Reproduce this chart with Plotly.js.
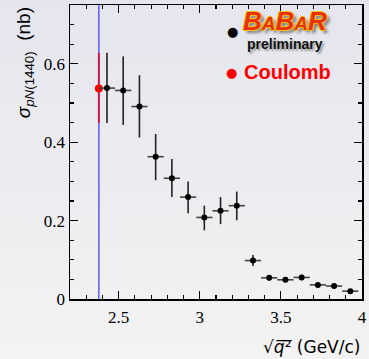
<!DOCTYPE html>
<html>
<head>
<meta charset="utf-8">
<script src="https://cdn.plot.ly/plotly-3.0.1.min.js"></script>
<style>
html,body{margin:0;padding:0;}
body{width:369px;height:359px;background:linear-gradient(to bottom,#e5e5ee 0%,#ececf0 50%,#f3f3f3 100%);}
#chart{width:369px;height:359px;}
</style>
</head>
<body>
<div id="chart"></div>
<script>
// BaBar preliminary data points
var q = [2.428, 2.528, 2.628, 2.728, 2.828, 2.928, 3.028, 3.128, 3.228, 3.328, 3.428, 3.528, 3.628, 3.728, 3.828, 3.928];
var sigma = [0.538, 0.532, 0.491, 0.363, 0.308, 0.260, 0.208, 0.225, 0.238, 0.098, 0.054, 0.049, 0.055, 0.036, 0.033, 0.020];
var errUp = [0.090, 0.087, 0.080, 0.058, 0.049, 0.040, 0.030, 0.035, 0.036, 0.014, 0.007, 0.006, 0.007, 0.004, 0.004, 0.003];
var errDown = [0.089, 0.088, 0.079, 0.060, 0.048, 0.041, 0.033, 0.034, 0.037, 0.014, 0.007, 0.006, 0.007, 0.004, 0.004, 0.003];
var binHalf = [0.05, 0.05, 0.05, 0.05, 0.05, 0.05, 0.05, 0.05, 0.05, 0.05, 0.05, 0.05, 0.05, 0.05, 0.05, 0.05];
// Coulomb point at threshold
var coulombQ = [2.378];
var coulombSigma = [0.537];
var coulombErrUp = [0.091];
var coulombErrDown = [0.088];
// threshold line
var thresholdQ = [2.378, 2.378];
var thresholdY = [0, 0.75];

var traces = [
  {x: thresholdQ, y: thresholdY, mode: 'lines', line: {color: '#4646f0', width: 1.3}, hoverinfo: 'skip', showlegend: false},
  {x: coulombQ, y: coulombSigma, mode: 'markers', marker: {color: '#ff0000', size: 8},
   error_y: {type: 'data', symmetric: false, array: coulombErrUp, arrayminus: coulombErrDown, width: 0, thickness: 2, color: 'rgb(205,30,80)'},
   showlegend: false},
  {x: q, y: sigma, mode: 'markers', marker: {color: '#000000', size: 6},
   error_y: {type: 'data', symmetric: false, array: errUp, arrayminus: errDown, width: 0, thickness: 1.6, color: '#222222'},
   error_x: {type: 'data', array: binHalf, width: 0, thickness: 1.6, color: '#444444'},
   showlegend: false}
];

var tickFont = {family: 'Liberation Serif, Times New Roman, serif', size: 17, color: '#000'};
var layout = {
  width: 369, height: 359,
  margin: {l: 70, r: 7, t: 5, b: 60},
  paper_bgcolor: 'rgba(0,0,0,0)',
  plot_bgcolor: 'rgba(0,0,0,0)',
  showlegend: false,
  xaxis: {
    range: [2.2, 4.0], tickmode: 'linear', tick0: 2.5, dtick: 0.5,
    ticks: 'inside', ticklen: 8, tickwidth: 1.2, tickcolor: '#000',
    minor: {dtick: 0.1, tick0: 2.2, ticks: 'inside', ticklen: 4, tickwidth: 1.2, tickcolor: '#000', showgrid: false},
    showline: true, linecolor: '#000', linewidth: 1.5, mirror: 'ticks',
    showgrid: false, zeroline: false, tickfont: tickFont, ticklabelstandoff: 2
  },
  yaxis: {
    range: [0, 0.75], tickmode: 'linear', tick0: 0, dtick: 0.2,
    ticks: 'inside', ticklen: 8, tickwidth: 1.2, tickcolor: '#000',
    minor: {dtick: 0.05, tick0: 0, ticks: 'inside', ticklen: 4, tickwidth: 1.2, tickcolor: '#000', showgrid: false},
    showline: true, linecolor: '#000', linewidth: 1.5, mirror: 'ticks',
    showgrid: false, zeroline: false, tickfont: tickFont
  },
  annotations: [
    {xref: 'paper', yref: 'paper', x: 1.0, y: -0.122, xanchor: 'right', yanchor: 'top', showarrow: false,
     text: '√<i>q\u0305</i>\u00B2\u0305 (GeV/c)',
     font: {family: 'DejaVu Sans, Liberation Sans, Arial, sans-serif', size: 17, color: '#000'}},
    {xref: 'paper', yref: 'paper', x: -0.155, y: 1.0, xanchor: 'center', yanchor: 'top', textangle: -90, showarrow: false,
     text: '<i>σ</i><sub><i>pN</i>(1440)</sub>  (nb)',
     font: {family: 'Liberation Sans, Arial, sans-serif', size: 19, color: '#000'}},
    {xref: 'paper', yref: 'paper', x: 0.556, y: 0.91, xanchor: 'center', yanchor: 'middle', showarrow: false,
     text: '●', font: {family: 'DejaVu Sans', size: 13, color: '#000'}},
    {xref: 'paper', yref: 'paper', x: 0.585, y: 0.945, xanchor: 'left', yanchor: 'middle', showarrow: false,
     text: '<b><i>B<span style="font-size:19px">A</span>B<span style="font-size:19px">A</span>R</i></b>',
     font: {family: 'Liberation Sans, Arial, sans-serif', size: 26, color: '#e8300f',
            shadow: '1px 0 0 #f5c000, -1px 0 0 #f5c000, 0 1px 0 #f5c000, 0 -1px 0 #f5c000, 3px 3px 3px #777'}},
    {xref: 'paper', yref: 'paper', x: 0.6, y: 0.868, xanchor: 'left', yanchor: 'middle', showarrow: false,
     text: '<b>preliminary</b>',
     font: {family: 'Liberation Sans, Arial, sans-serif', size: 14, color: '#111', shadow: '2px 2px 2px #999'}},
    {xref: 'paper', yref: 'paper', x: 0.553, y: 0.772, xanchor: 'center', yanchor: 'middle', showarrow: false,
     text: '●', font: {family: 'DejaVu Sans', size: 13, color: '#ff0000'}},
    {xref: 'paper', yref: 'paper', x: 0.59, y: 0.772, xanchor: 'left', yanchor: 'middle', showarrow: false,
     text: '<b>Coulomb</b>',
     font: {family: 'Liberation Sans, Arial, sans-serif', size: 20, color: '#ff0000'}}
  ]
};

Plotly.newPlot('chart', traces, layout, {displayModeBar: false, staticPlot: true});
</script>
</body>
</html>
